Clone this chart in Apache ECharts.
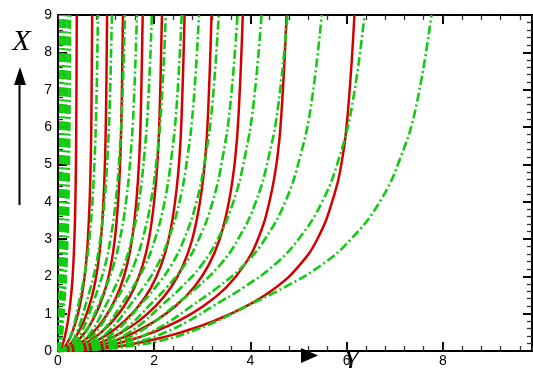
<!DOCTYPE html>
<html>
<head>
<meta charset="utf-8">
<script src="https://cdn.jsdelivr.net/npm/echarts@6/dist/echarts.min.js"></script>
<style>
html,body{margin:0;padding:0;background:#fff;}
#chart{width:533px;height:368px;}
</style>
</head>
<body>
<div id="chart"></div>
<script>
// Shared Y sample levels for every curve
const yLevels = [0, 0.05, 0.15, 0.3, 0.5, 0.8, 1.2, 1.7, 2.3, 3, 4, 5.2, 6.6, 9];

// X positions of the red solid curves at each Y level
const redCurves = [
  [0, .051, .088, .125, .162, .205, .248, .287, .318, .341, .361, .374, .382, .39],
  [0, .092, .160, .227, .295, .373, .451, .522, .579, .621, .657, .682, .696, .71],
  [0, .133, .230, .326, .423, .536, .648, .750, .831, .893, .944, .979, 1.0, 1.02],
  [0, .176, .304, .432, .560, .709, .857, .992, 1.100, 1.181, 1.249, 1.296, 1.323, 1.35],
  [0, .229, .396, .563, .730, .924, 1.118, 1.294, 1.434, 1.540, 1.628, 1.690, 1.725, 1.76],
  [0, .281, .486, .691, .896, 1.134, 1.372, 1.588, 1.760, 1.890, 1.998, 2.074, 2.117, 2.16],
  [0, .342, .592, .842, 1.091, 1.381, 1.670, 1.933, 2.143, 2.301, 2.433, 2.525, 2.577, 2.63],
  [0, .415, .718, 1.021, 1.324, 1.675, 2.026, 2.345, 2.600, 2.791, 2.951, 3.062, 3.126, 3.19],
  [0, .499, .864, 1.229, 1.594, 2.016, 2.438, 2.822, 3.130, 3.360, 3.552, 3.686, 3.763, 3.84],
  [0, .618, 1.069, 1.520, 1.971, 2.494, 3.016, 3.491, 3.871, 4.156, 4.394, 4.560, 4.655, 4.75],
  [0, .801, 1.386, 1.971, 2.556, 3.234, 3.912, 4.528, 5.020, 5.390, 5.698, 5.914, 6.037, 6.16]
];

// X positions of the green dash-dot curves at each Y level
const greenCurves = [
  [0, .006, .010, .014, .018, .021, .025, .030, .035, .039, .043, .046, .048, .05],
  [0, .012, .021, .029, .035, .043, .051, .061, .071, .079, .086, .092, .096, .10],
  [0, .018, .031, .043, .053, .064, .076, .091, .106, .118, .129, .138, .144, .15],
  [0, .024, .041, .057, .070, .085, .101, .121, .141, .157, .172, .184, .192, .20],
  [0, .030, .051, .071, .088, .106, .126, .151, .176, .196, .216, .230, .240, .25],
  [0, .100, .170, .237, .291, .353, .419, .502, .585, .652, .715, .762, .797, .83],
  [0, .134, .230, .319, .392, .476, .566, .678, .790, .879, .965, 1.028, 1.075, 1.12],
  [0, .167, .285, .396, .487, .591, .702, .841, .980, 1.091, 1.198, 1.276, 1.334, 1.39],
  [0, .197, .336, .467, .574, .697, .828, .992, 1.156, 1.287, 1.414, 1.506, 1.574, 1.64],
  [0, .234, .400, .556, .683, .829, .985, 1.180, 1.375, 1.531, 1.681, 1.790, 1.872, 1.95],
  [0, .269, .459, .638, .784, .952, 1.131, 1.355, 1.579, 1.758, 1.931, 2.056, 2.150, 2.24],
  [0, .308, .527, .733, .900, 1.092, 1.298, 1.555, 1.812, 2.018, 2.215, 2.359, 2.467, 2.57],
  [0, .352, .601, .835, 1.026, 1.245, 1.480, 1.773, 2.066, 2.300, 2.526, 2.690, 2.813, 2.93],
  [0, .401, .685, .952, 1.169, 1.420, 1.687, 2.021, 2.355, 2.622, 2.879, 3.066, 3.206, 3.34],
  [0, .448, .765, 1.063, 1.306, 1.585, 1.884, 2.257, 2.630, 2.928, 3.215, 3.424, 3.581, 3.73],
  [0, .508, .867, 1.206, 1.481, 1.798, 2.136, 2.559, 2.982, 3.321, 3.646, 3.883, 4.061, 4.23],
  [0, .572, .978, 1.360, 1.670, 2.027, 2.409, 2.886, 3.363, 3.745, 4.112, 4.379, 4.579, 4.77],
  [0, .658, 1.123, 1.562, 1.918, 2.329, 2.767, 3.315, 3.863, 4.302, 4.724, 5.031, 5.261, 5.48],
  [0, .764, 1.306, 1.816, 2.230, 2.707, 3.217, 3.854, 4.491, 5.001, 5.491, 5.848, 6.115, 6.37],
  [0, .931, 1.591, 2.212, 2.716, 3.298, 3.919, 4.695, 5.471, 6.092, 6.689, 7.124, 7.450, 7.76]
];

const xTickLabels = ['0', '2', '4', '6', '8'];
const yTickLabels = ['0', '1', '2', '3', '4', '5', '6', '7', '8', '9'];

const X_MIN = 0, X_MAX = 9.85, Y_MIN = 0, Y_MAX = 9;

function pairUp(xs) { return xs.map((x, i) => [x, yLevels[i]]); }

const series = [];
redCurves.forEach((xs, i) => {
  series.push({
    type: 'line', name: 'red' + i, data: pairUp(xs),
    xAxisIndex: 0, yAxisIndex: 0,
    showSymbol: false, smooth: 0.45, silent: true,
    lineStyle: { color: '#d40000', width: 2.5, type: 'solid' }, z: 3
  });
});
greenCurves.forEach((xs, i) => {
  series.push({
    type: 'line', name: 'green' + i, data: pairUp(xs),
    xAxisIndex: 0, yAxisIndex: 0,
    showSymbol: false, smooth: 0.45, silent: true,
    lineStyle: { color: '#10cc10', width: 2.6, type: [9, 3, 2, 3] }, z: 4
  });
});

const font = 'Liberation Sans, Arial, sans-serif';
function baseX(pos, major, labels) {
  return {
    type: 'value', position: pos, min: X_MIN, max: X_MAX,
    interval: major ? 2 : 0.4,
    axisLine: { show: major, onZero: false, lineStyle: { color: '#000', width: 2 } },
    axisTick: { show: true, inside: true, length: major ? 9 : 5,
      lineStyle: { color: major ? '#000' : '#333', width: major ? 2 : 1.3 } },
    axisLabel: { show: labels, margin: 3, color: '#000', fontSize: 14, fontFamily: font,
      showMaxLabel: false,
      formatter: v => { const s = String(Math.round(v)); return (Math.abs(v - Math.round(v)) < 1e-6 && xTickLabels.indexOf(s) >= 0) ? s : ''; } },
    splitLine: { show: false }
  };
}
function baseY(pos, labels) {
  return {
    type: 'value', position: pos, min: Y_MIN, max: Y_MAX, interval: 1,
    axisLine: { show: true, onZero: false, lineStyle: { color: '#000', width: 2 } },
    axisTick: { show: true, inside: true, length: 9, lineStyle: { color: '#000', width: 2 } },
    minorTick: { show: true, splitNumber: 5, length: 5, lineStyle: { color: '#333', width: 1.3 } },
    axisLabel: { show: labels, margin: 6, color: '#000', fontSize: 14, fontFamily: font,
      formatter: v => yTickLabels[Math.round(v)] },
    splitLine: { show: false }
  };
}

const chart = echarts.init(document.getElementById('chart'), null, { renderer: 'canvas' });
chart.setOption({
  animation: false,
  backgroundColor: '#fff',
  grid: { left: 58, right: 1, top: 15, bottom: 12.5, containLabel: false },
  xAxis: [baseX('bottom', true, true), baseX('top', true, false),
          baseX('bottom', false, false), baseX('top', false, false)],
  yAxis: [baseY('left', true), baseY('right', false)],
  series: series,
  graphic: [
    { type: 'text', x: 21.5, y: 42.5, z: 10,
      style: { text: 'X', font: 'italic 30px "Liberation Serif", "Times New Roman", serif', fill: '#000', align: 'center', verticalAlign: 'middle' } },
    { type: 'line', z: 10, shape: { x1: 19.5, y1: 205, x2: 19.5, y2: 82 }, style: { stroke: '#000', lineWidth: 2 } },
    { type: 'polygon', z: 10, shape: { points: [[20, 67], [14, 85], [26, 85]] }, style: { fill: '#000' } },
    { type: 'polygon', z: 10, shape: { points: [[318, 355.5], [301, 348], [301, 363]] }, style: { fill: '#000' } },
    { type: 'text', x: 351, y: 361, z: 10,
      style: { text: 'Y', font: 'italic 30px "Liberation Serif", "Times New Roman", serif', fill: '#000', align: 'center', verticalAlign: 'middle' } }
  ]
});
</script>
</body>
</html>
